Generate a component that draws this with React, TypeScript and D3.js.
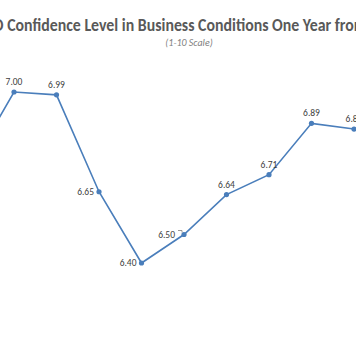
import React from "react";
import * as d3 from "d3";

const periods = ["P0", "P1", "P2", "P3", "P4", "P5", "P6", "P7", "P8", "P9"];
const confidence = [6.74, 7.0, 6.99, 6.65, 6.4, 6.5, 6.64, 6.71, 6.89, 6.87];
const title = "CEO Confidence Level in Business Conditions One Year from Now";
const subtitle = "(1-10 Scale)";

const W = 356;
const H = 364;

export default function App() {
  const x = d3
    .scaleLinear()
    .domain([0, periods.length - 1])
    .range([-28.5, -28.5 + 42.5 * (periods.length - 1)]);
  const y = d3.scaleLinear().domain([6.4, 7.0]).range([263, 92]);
  const pts = confidence.map((v, i) => ({ v, i, px: x(i), py: y(v) }));
  const line = d3
    .line<{ px: number; py: number }>()
    .x((d) => d.px)
    .y((d) => d.py);
  const leftLabels = new Set([3, 4, 5]);
  const font = "Carlito, 'Open Sans', 'Liberation Sans', sans-serif";
  return (
    <svg
      width={W}
      height={H}
      style={{ position: "absolute", left: 0, top: 0, background: "#fff" }}
    >
      <text
        x={189}
        y={31}
        textAnchor="middle"
        fontFamily={font}
        fontWeight="bold"
        fontSize={17}
        fill="#595959"
        textLength={424}
        lengthAdjust="spacingAndGlyphs"
      >
        {title}
      </text>
      <text
        x={189}
        y={46}
        textAnchor="middle"
        fontFamily={font}
        fontStyle="italic"
        fontSize={10}
        fill="#7f7f7f"
      >
        {subtitle}
      </text>
      <path d={line(pts) || ""} fill="none" stroke="#4a7ebb" strokeWidth={1.6} />
      {pts.map((p) => (
        <circle key={p.i} cx={p.px} cy={p.py} r={2.6} fill="#4a7ebb" />
      ))}
      {pts.map((p) => {
        if (p.i === 0) return null;
        const left = leftLabels.has(p.i);
        const dx = p.i === 5 ? 9 : 5;
        return (
          <text
            key={"l" + p.i}
            x={left ? p.px - dx : p.px}
            y={left ? p.py + 3 : p.py - 7}
            textAnchor={left ? "end" : "middle"}
            fontFamily={font}
            fontSize={9.5}
            fill="#404040"
          >
            {p.v.toFixed(2)}
          </text>
        );
      })}
      {pts
        .filter((p) => p.i === 5)
        .map((p) => (
          <path
            key="leader"
            d={`M${p.px - 6},${p.py - 4}H${p.px - 2}V${p.py - 2}`}
            fill="none"
            stroke="#7f7f7f"
            strokeWidth={0.8}
          />
        ))}
    </svg>
  );
}
